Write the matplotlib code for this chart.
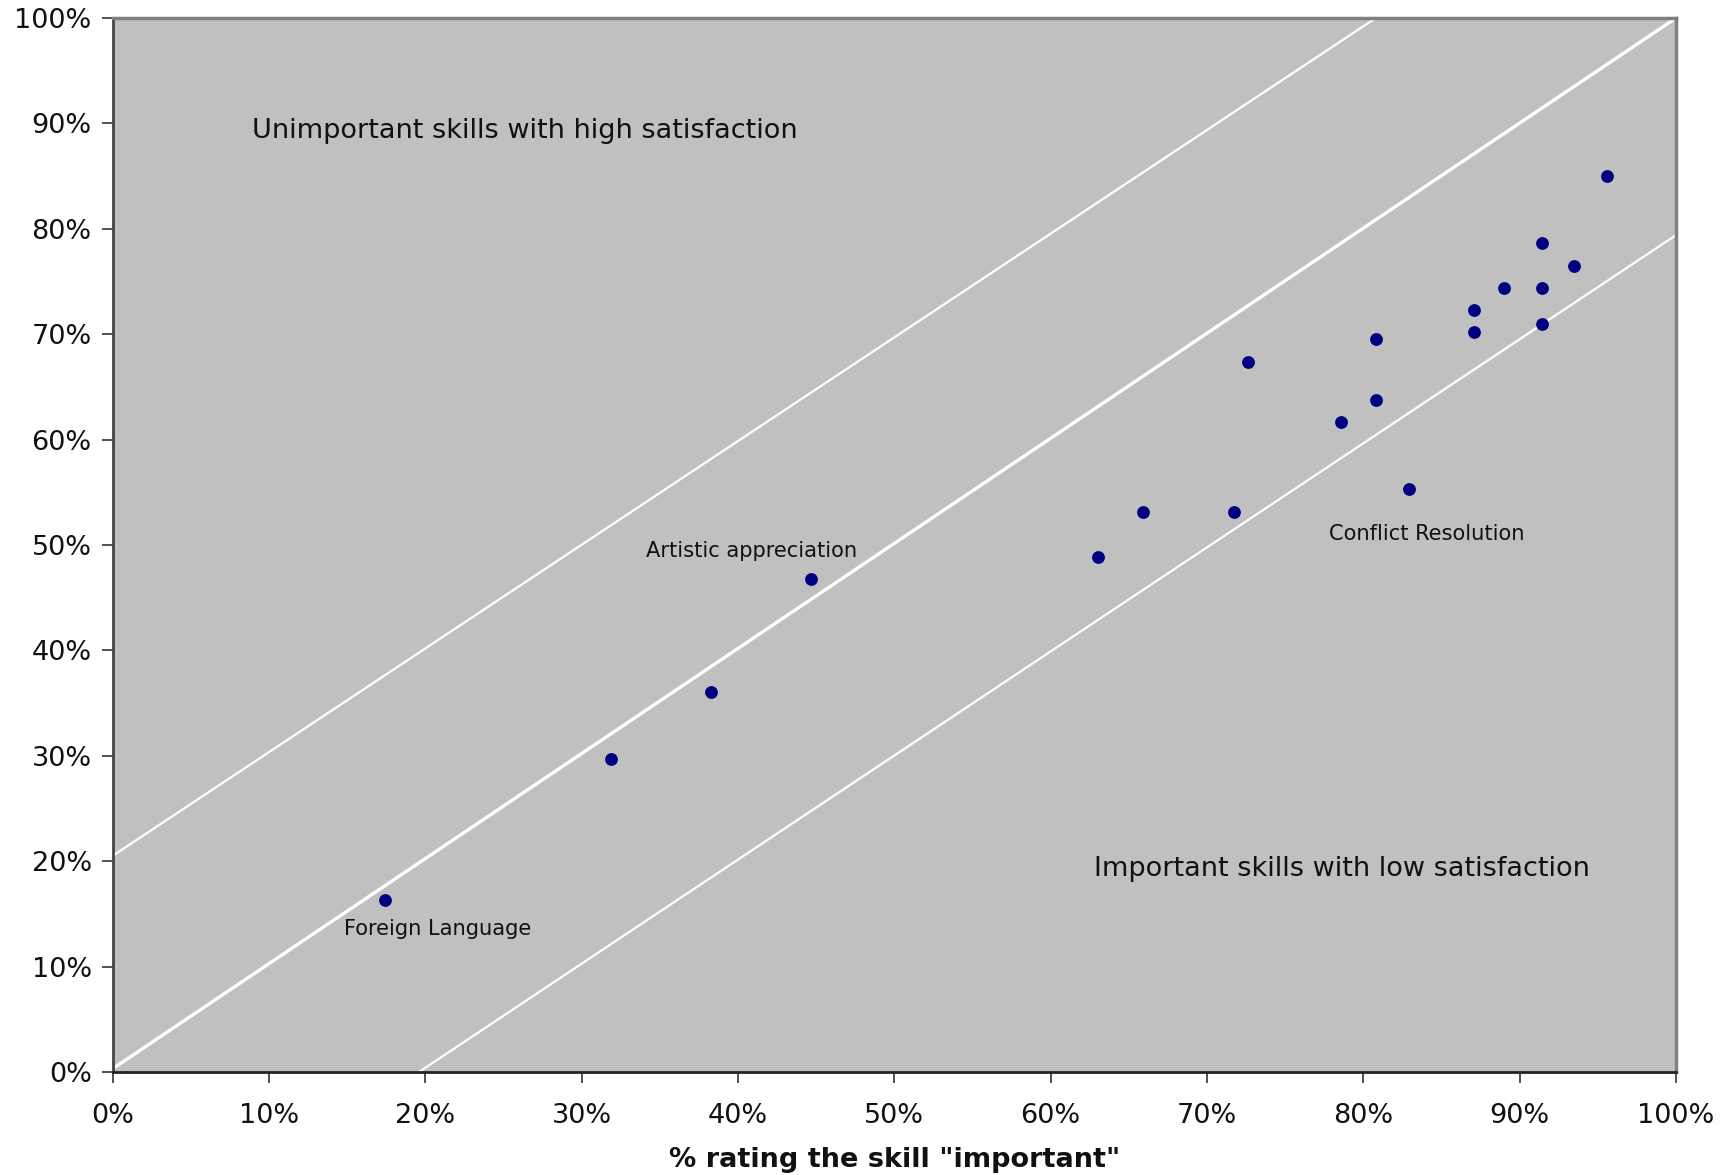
import matplotlib
matplotlib.use("Agg")
import matplotlib.pyplot as plt
from matplotlib.ticker import PercentFormatter, MultipleLocator

# Data (fractions)
importance = [0.174, 0.319, 0.383, 0.447, 0.630, 0.659, 0.717, 0.726, 0.786, 0.808,
              0.808, 0.829, 0.871, 0.871, 0.890, 0.914, 0.914, 0.914, 0.935, 0.956]
satisfaction = [0.163, 0.297, 0.361, 0.468, 0.489, 0.531, 0.531, 0.674, 0.617, 0.638,
                0.695, 0.553, 0.723, 0.702, 0.744, 0.787, 0.744, 0.710, 0.765, 0.850]

# Reference lines (x pairs, y pairs)
mid_line_x = [0.0, 1.0]
mid_line_y = [0.003, 1.0]
upper_line_x = [0.0, 0.808]
upper_line_y = [0.205, 1.0]
lower_line_x = [0.196, 1.0]
lower_line_y = [0.0, 0.794]

region_labels = ["Unimportant skills with high satisfaction",
                 "Important skills with low satisfaction"]
region_pos = [(0.089, 0.893), (0.628, 0.193)]
point_labels = ["Artistic appreciation", "Conflict Resolution", "Foreign Language"]
point_label_pos = [(0.341, 0.494), (0.778, 0.510), (0.148, 0.136)]

plt.rcParams['font.family'] = ['DejaVu Sans']

fig = plt.figure(figsize=(17.35, 11.75), dpi=100)
ax = fig.add_axes([112.5 / 1735, 1 - 1072 / 1175, (1676 - 112.5) / 1735, (1072 - 18) / 1175])
ax.set_facecolor('#C0C0C0')

ax.plot(upper_line_x, upper_line_y, color='white', lw=1.6, zorder=2)
ax.plot(mid_line_x, mid_line_y, color='white', lw=2.4, zorder=2)
ax.plot(lower_line_x, lower_line_y, color='white', lw=1.6, zorder=2)

ax.scatter(importance, satisfaction, s=85, color='#000080', zorder=3, linewidths=0)

for t, (x, y) in zip(region_labels, region_pos):
    ax.text(x, y, t, fontsize=19.5, color='#111111', ha='left', va='center')
for t, (x, y) in zip(point_labels, point_label_pos):
    ax.text(x, y, t, fontsize=15.1, color='#111111', ha='left', va='center')

ax.set_xlim(0, 1)
ax.set_ylim(0, 1)
ax.xaxis.set_major_locator(MultipleLocator(0.1))
ax.yaxis.set_major_locator(MultipleLocator(0.1))
ax.xaxis.set_major_formatter(PercentFormatter(1.0, decimals=0))
ax.yaxis.set_major_formatter(PercentFormatter(1.0, decimals=0))
ax.tick_params(axis='both', direction='out', length=8, width=1.2, color='#333333',
               labelsize=19.5, labelcolor='#111111')
ax.tick_params(axis='x', pad=14)
ax.tick_params(axis='y', pad=7)

for side in ['top', 'right']:
    ax.spines[side].set_color('#808080')
    ax.spines[side].set_linewidth(2.5)
ax.spines['left'].set_color('#444444')
ax.spines['left'].set_linewidth(2.0)
ax.spines['bottom'].set_color('#222222')
ax.spines['bottom'].set_linewidth(2.0)

ax.set_xlabel('% rating the skill "important"', fontsize=19.5, fontweight='bold',
              color='#111111', labelpad=13)

fig.savefig('out.png', dpi=100)
